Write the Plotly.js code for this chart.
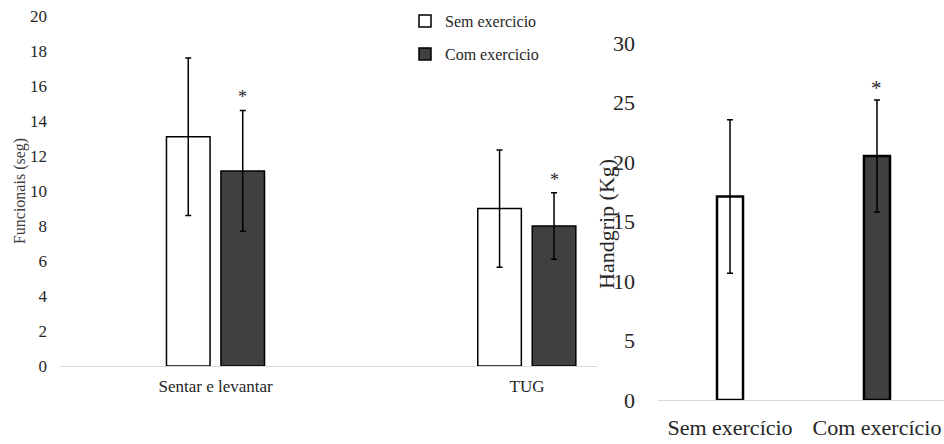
<!DOCTYPE html>
<html>
<head>
<meta charset="utf-8">
<script src="https://cdn.plot.ly/plotly-3.0.1.min.js"></script>
<style>html,body{margin:0;padding:0;background:#fff;}#chart{width:944px;height:444px;}</style>
</head>
<body>
<div id="chart"></div>
<script>
// ---- Data ----
const testCategories = ['Sentar e levantar', 'TUG'];
const semMeans = [13.1, 9.0];
const semSD = [4.5, 3.35];
const comMeans = [11.15, 8.0];
const comSD = [3.45, 1.9];
const comStarY = [15.35, 10.65];

const handCategories = ['Sem exercício', 'Com exercício'];
const handMeans = [17.1, 20.5];
const handSD = [6.45, 4.7];
const handStarY = [null, 26.2];

const legendNames = ['Sem exercicio', 'Com exercicio'];
const leftTicks = [0, 2, 4, 6, 8, 10, 12, 14, 16, 18, 20];
const rightTicks = [0, 5, 10, 15, 20, 25, 30];

// ---- Styles ----
const SERIF = '"Liberation Serif", "Times New Roman", serif';
const TXT = '#262626';
const DARK = '#404040';
const barW = 0.14;
const semOffset = -0.158;
const comOffset = 0.017;
const handBarW = 0.177;

const errStyle = {type: 'data', visible: true, color: '#000', thickness: 1.5, width: 3};

const traces = [
  {type: 'bar', name: legendNames[0], x: testCategories, y: semMeans,
   error_y: Object.assign({array: semSD}, errStyle),
   width: barW, offset: semOffset,
   marker: {color: '#ffffff', line: {color: '#000', width: 1.5}},
   xaxis: 'x', yaxis: 'y', legend: 'legend', hoverinfo: 'y'},
  {type: 'bar', name: legendNames[1], x: testCategories, y: comMeans,
   error_y: Object.assign({array: comSD}, errStyle),
   width: barW, offset: comOffset,
   marker: {color: DARK, line: {color: '#000', width: 1.5}},
   xaxis: 'x', yaxis: 'y', legend: 'legend2', hoverinfo: 'y'},
  {type: 'bar', x: handCategories, y: handMeans,
   error_y: Object.assign({array: handSD}, errStyle),
   width: handBarW,
   marker: {color: ['#ffffff', DARK], line: {color: '#000', width: 2.5}},
   xaxis: 'x2', yaxis: 'y2', showlegend: false, hoverinfo: 'y'}
];

const annotations = [];
comStarY.forEach((v, i) => {
  if (v == null) return;
  annotations.push({xref: 'x', yref: 'y', x: i + comOffset + barW / 2, y: v,
    text: '*', showarrow: false, font: {family: SERIF, size: 18, color: TXT}});
});
handStarY.forEach((v, i) => {
  if (v == null) return;
  annotations.push({xref: 'x2', yref: 'y2', x: i, y: v,
    text: '*', showarrow: false, font: {family: SERIF, size: 21, color: TXT}});
});
annotations.push({xref: 'paper', yref: 'paper', x: 607 / 944, y: 1 - 224 / 444,
  text: 'Handgrip (Kg)', textangle: -90, showarrow: false,
  font: {family: SERIF, size: 22, color: TXT}});

const layout = {
  width: 944, height: 444,
  margin: {l: 0, r: 0, t: 0, b: 0},
  paper_bgcolor: '#fff', plot_bgcolor: 'rgba(0,0,0,0)',
  barmode: 'group',
  font: {family: SERIF, color: TXT},
  xaxis: {domain: [60 / 944, 597 / 944], type: 'category', range: [-0.5, 1.225],
    showline: true, linecolor: '#d9d9d9', linewidth: 1, ticks: '', showgrid: false,
    ticklabelstandoff: 5,
    zeroline: false, tickfont: {family: SERIF, size: 17, color: TXT}, anchor: 'y', fixedrange: true},
  yaxis: {domain: [78 / 444, 428 / 444], range: [0, 20], tickvals: leftTicks,
    showline: false, showgrid: false, zeroline: false, ticks: '',
    ticklabelstandoff: 12,
    tickfont: {family: SERIF, size: 17, color: TXT}, anchor: 'x',
    title: {text: 'Funcionais (seg)', font: {family: SERIF, size: 16, color: '#404040'}, standoff: 0}},
  xaxis2: {domain: [658 / 944, 1], type: 'category', range: [-0.49, 1.456],
    showline: true, linecolor: '#d9d9d9', linewidth: 1, ticks: '', showgrid: false,
    ticklabelstandoff: 8,
    zeroline: false, tickfont: {family: SERIF, size: 22, color: TXT}, anchor: 'y2'},
  yaxis2: {domain: [44 / 444, 401 / 444], range: [0, 30], tickvals: rightTicks,
    showline: false, showgrid: false, zeroline: false, ticks: '',
    ticklabelstandoff: 22,
    tickfont: {family: SERIF, size: 22, color: TXT}, anchor: 'x2'},
  legend: {x: 405 / 944, y: 1 - 21 / 444, xanchor: 'left', yanchor: 'middle',
    bgcolor: 'rgba(0,0,0,0)', font: {family: SERIF, size: 16, color: TXT}},
  legend2: {x: 405 / 944, y: 1 - 54 / 444, xanchor: 'left', yanchor: 'middle',
    bgcolor: 'rgba(0,0,0,0)', font: {family: SERIF, size: 16, color: TXT}},
  annotations: annotations,
  showlegend: true
};

Plotly.newPlot('chart', traces, layout, {displayModeBar: false, staticPlot: true});
</script>
</body>
</html>
